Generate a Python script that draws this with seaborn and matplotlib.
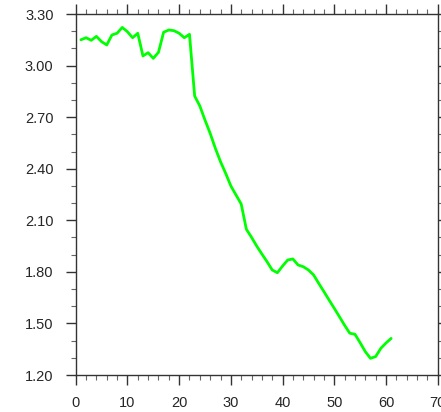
import numpy as np
import pandas as pd
import matplotlib
matplotlib.use("Agg")
import matplotlib.pyplot as plt
import seaborn as sns
from matplotlib.ticker import MultipleLocator, FormatStrFormatter

x_vals = list(range(1, 62))
y_vals = [3.15, 3.162, 3.147, 3.17, 3.139, 3.12, 3.178, 3.188, 3.222, 3.197,
          3.162, 3.188, 3.056, 3.075, 3.042, 3.077, 3.194, 3.207, 3.203, 3.188,
          3.162, 3.182, 2.823, 2.765, 2.683, 2.606, 2.519, 2.441, 2.373, 2.300,
          2.247, 2.195, 2.048, 2.001, 1.950, 1.904, 1.859, 1.811, 1.795, 1.834,
          1.869, 1.875, 1.840, 1.830, 1.811, 1.782, 1.733, 1.685, 1.636, 1.588,
          1.539, 1.489, 1.443, 1.437, 1.388, 1.336, 1.297, 1.307, 1.355, 1.386,
          1.413]

df = pd.DataFrame({"x": x_vals, "y": y_vals})

sns.set_style("white")
plt.rcParams['font.family'] = ['Liberation Sans', 'DejaVu Sans']

fig = plt.figure(figsize=(4.41, 4.12), dpi=100)
ax = fig.add_axes([0.1717, 0.0898, 0.9925 - 0.1717, 0.966 - 0.0898])

sns.lineplot(data=df, x="x", y="y", ax=ax, color="#00FF00", linewidth=2.0)

ax.set_xlim(0, 70)
ax.set_ylim(1.2, 3.3)
ax.xaxis.set_major_locator(MultipleLocator(10))
ax.xaxis.set_minor_locator(MultipleLocator(2))
ax.yaxis.set_major_locator(MultipleLocator(0.3))
ax.yaxis.set_minor_locator(MultipleLocator(0.1))
ax.yaxis.set_major_formatter(FormatStrFormatter("%.2f"))
ax.set_xlabel("")
ax.set_ylabel("")

for s in ax.spines.values():
    s.set_visible(True)
    s.set_color("#333333")
    s.set_linewidth(1.0)

ax.tick_params(which="major", direction="out", length=7, width=1.0, color="#333333",
               labelsize=10.5, top=True, right=True, bottom=True, left=True,
               labeltop=False, labelright=False)
ax.tick_params(which="minor", direction="out", length=3.5, width=0.8, color="#666666",
               top=True, right=True, bottom=True, left=True)
ax.tick_params(axis="x", which="major", pad=8)
ax.tick_params(axis="y", which="major", pad=9)

fig.savefig("out.png", dpi=100)
